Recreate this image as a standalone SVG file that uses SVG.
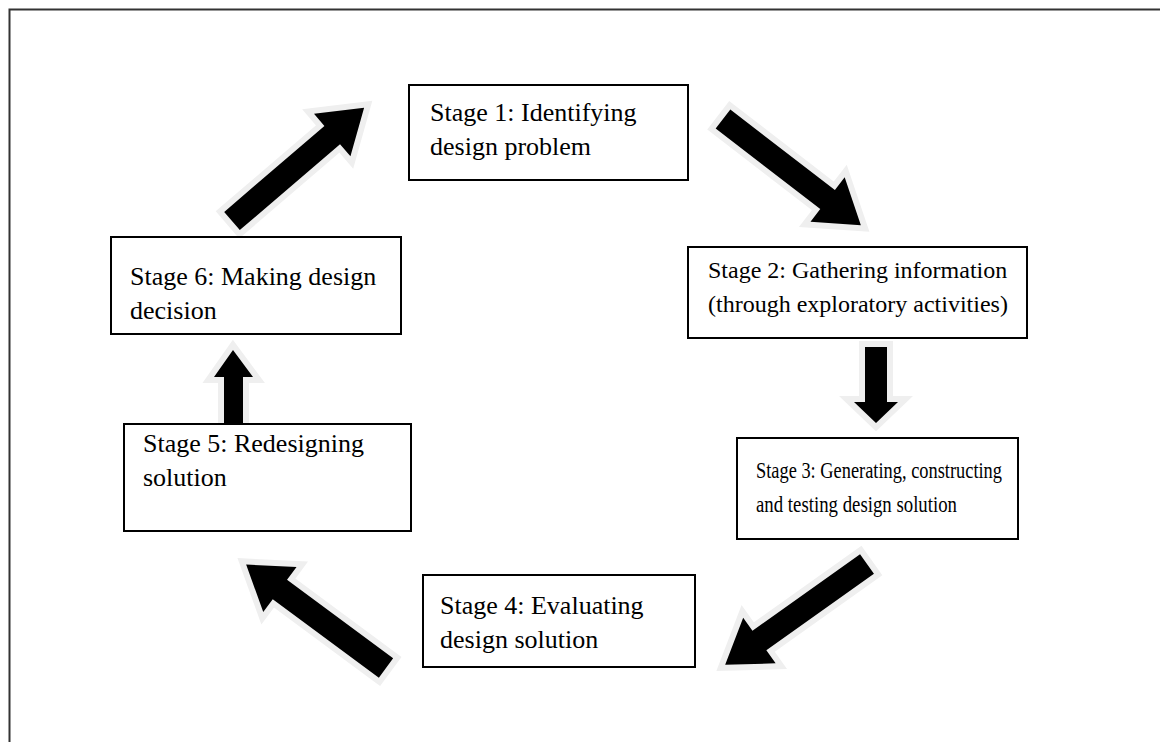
<svg xmlns="http://www.w3.org/2000/svg" width="1160" height="742" viewBox="0 0 1160 742">
<style>
.box{fill:#fff;stroke:#000;stroke-width:2}
.lbl{font-family:"Liberation Serif","Times New Roman",serif;font-size:26px;fill:#000}
.s24{font-size:24px}
.s22{font-size:22.5px}
.arr{fill:#000;stroke:#efefef;stroke-width:12;stroke-linejoin:miter;stroke-miterlimit:10;paint-order:stroke}
</style>
<defs>
<path id="darr" d="M0,-12 L132,-12 L132,-28 L174,0 L132,28 L132,12 L0,12 Z"/>
</defs>
<rect width="1160" height="742" fill="#fff"/>
<path d="M9.5,742 L9.5,9.5 L1160,9.5" fill="none" stroke="#333" stroke-width="2"/>
<g id="connectors">
<use href="#darr" class="arr" transform="translate(232,221) rotate(-40.6)"/>
<use href="#darr" class="arr" transform="translate(723,119) rotate(37.6)"/>
<path class="arr" d="M865,347 L887,347 L887,402 L898,402 L876,423 L854,402 L865,402 Z"/>
<use href="#darr" class="arr" transform="translate(867,564) rotate(144.6)"/>
<use href="#darr" class="arr" transform="translate(386,668) rotate(-143.5)"/>
<path class="arr" d="M224,426 L243,426 L243,377 L253,377 L233,350 L214,377 L224,377 Z"/>
</g>
<g id="stage1"><rect class="box" x="409" y="85" width="279" height="95"/><text class="lbl" x="430" y="121">Stage 1: Identifying</text><text class="lbl" x="430" y="155">design problem</text></g>
<g id="stage2"><rect class="box" x="688" y="247" width="339" height="91"/><text class="lbl s24" x="708" y="278">Stage 2: Gathering information</text><text class="lbl s24" x="708" y="312">(through exploratory activities)</text></g>
<g id="stage3"><rect class="box" x="737" y="438" width="281" height="101"/><text class="lbl s22" x="756" y="478" textLength="246" lengthAdjust="spacingAndGlyphs">Stage 3: Generating, constructing</text><text class="lbl s22" x="756" y="512" textLength="201" lengthAdjust="spacingAndGlyphs">and testing design solution</text></g>
<g id="stage4"><rect class="box" x="423" y="575" width="272" height="92"/><text class="lbl" x="440" y="614">Stage 4: Evaluating</text><text class="lbl" x="440" y="648">design solution</text></g>
<g id="stage5"><rect class="box" x="124" y="424" width="287" height="107"/><text class="lbl" x="143" y="452">Stage 5: Redesigning</text><text class="lbl" x="143" y="486">solution</text></g>
<g id="stage6"><rect class="box" x="111" y="237" width="290" height="97"/><text class="lbl" x="130" y="285">Stage 6: Making design</text><text class="lbl" x="130" y="319">decision</text></g>
</svg>
